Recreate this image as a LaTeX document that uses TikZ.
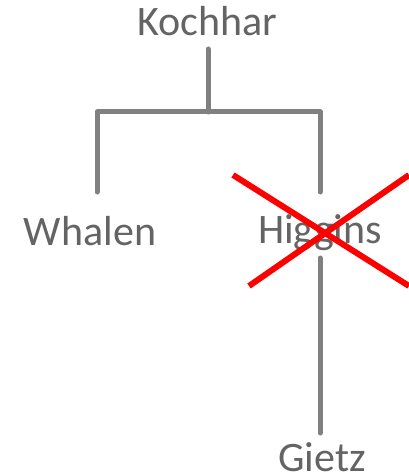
\documentclass[tikz,border=0pt]{standalone}
\usepackage{fontspec}
\setmainfont{Carlito}
\definecolor{txtgray}{RGB}{100,100,100}
\definecolor{linegray}{RGB}{128,128,128}
\definecolor{xred}{RGB}{255,0,0}
\begin{document}
\begin{tikzpicture}[x=1pt,y=-1pt,
  lbl/.style={font=\fontsize{42}{42}\selectfont, text=txtgray, inner sep=0pt, anchor=base},
  tree/.style={draw=linegray, line width=5pt, line cap=round},
  cross/.style={draw=xred, line width=6pt}]
\useasboundingbox (0,0) rectangle (409,476);
\node[lbl] (kochhar) at (207,36) {Kochhar};
\node[lbl] (whalen) at (90,245) {Whalen};
\node[lbl] (higgins) at (320,243) {Higgins};
\node[lbl, text depth=0pt] (gietz) at (322,471) {Gietz};
\coordinate (ktop) at (208,49);
\coordinate (kjoin) at (208,112);
\coordinate (lcorner) at (97,112);
\coordinate (rcorner) at (320,112);
\coordinate (lend) at (97,192);
\coordinate (rend) at (320,192);
\coordinate (htop) at (320,258);
\coordinate (hend) at (320,433);
\draw[tree] (ktop) -- (kjoin);
\draw[tree, line join=round] (lend) -- (lcorner) -- (rcorner) -- (rend);
\draw[tree] (htop) -- (hend);
\coordinate (x1a) at (233,175);
\coordinate (x1b) at (409,286);
\coordinate (x2a) at (249,286);
\coordinate (x2b) at (409,175);
\draw[cross] (x1a) -- (x1b);
\draw[cross] (x2a) -- (x2b);
\end{tikzpicture}
\end{document}
